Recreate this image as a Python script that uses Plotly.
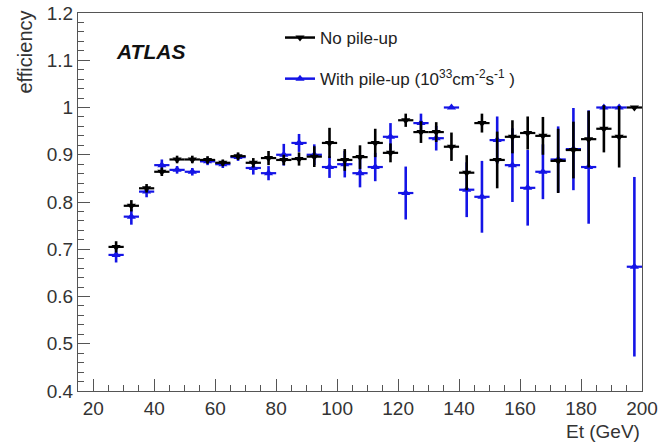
import plotly.graph_objects as go

# Bin centres (GeV)
et = [27.5, 32.5, 37.5, 42.5, 47.5, 52.5, 57.5, 62.5, 67.5, 72.5, 77.5, 82.5,
      87.5, 92.5, 97.5, 102.5, 107.5, 112.5, 117.5, 122.5, 127.5, 132.5, 137.5,
      142.5, 147.5, 152.5, 157.5, 162.5, 167.5, 172.5, 177.5, 182.5, 187.5,
      192.5, 197.5]
half_bin = [2.5] * len(et)

# No pile-up
eff_nopu = [0.705, 0.792, 0.829, 0.864, 0.890, 0.890, 0.889, 0.883, 0.897, 0.883,
            0.893, 0.889, 0.891, 0.896, 0.925, 0.889, 0.895, 0.925, 0.904, 0.973,
            0.948, 0.948, 0.917, 0.862, 0.967, 0.889, 0.938, 0.946, 0.940, 0.887,
            0.910, 0.933, 0.955, 0.938, 1.000]
err_nopu = [0.012, 0.012, 0.009, 0.009, 0.008, 0.008, 0.008, 0.007, 0.008, 0.010,
            0.015, 0.011, 0.014, 0.022, 0.032, 0.023, 0.025, 0.030, 0.020, 0.014,
            0.023, 0.021, 0.030, 0.037, 0.020, 0.060, 0.035, 0.035, 0.040, 0.068,
            0.060, 0.060, 0.050, 0.065, 0.000]

# With pile-up
eff_pu = [0.688, 0.769, 0.822, 0.878, 0.868, 0.864, 0.886, 0.880, 0.895, 0.872,
          0.861, 0.900, 0.925, 0.900, 0.874, 0.880, 0.861, 0.874, 0.938, 0.819,
          0.967, 0.935, 1.000, 0.826, 0.811, 0.931, 0.878, 0.830, 0.864, 0.890,
          0.912, 0.874, 1.000, 1.000, 0.663]
err_pu = [0.016, 0.017, 0.012, 0.012, 0.008, 0.008, 0.008, 0.008, 0.008, 0.014,
          0.015, 0.023, 0.019, 0.022, 0.023, 0.028, 0.030, 0.030, 0.029, 0.056,
          0.020, 0.026, 0.000, 0.058, 0.076, 0.050, 0.078, 0.080, 0.058, 0.070,
          0.087, 0.120, 0.000, 0.000, 0.190]

BLUE = "#1414e6"
BLACK = "#000000"
FONT = "Liberation Sans, Arial, sans-serif"

fig = go.Figure()

fig.add_trace(go.Scatter(
    x=et, y=eff_pu, mode="markers", showlegend=False,
    marker=dict(symbol="triangle-up", size=8, color=BLUE),
    error_x=dict(type="data", array=half_bin, width=0, thickness=2.2, color=BLUE),
    error_y=dict(type="data", array=err_pu, width=0, thickness=2.6, color=BLUE),
))
fig.add_trace(go.Scatter(
    x=et, y=eff_nopu, mode="markers", showlegend=False,
    marker=dict(symbol="triangle-down", size=8, color=BLACK),
    error_x=dict(type="data", array=half_bin, width=0, thickness=2.2, color=BLACK),
    error_y=dict(type="data", array=err_nopu, width=0, thickness=2.6, color=BLACK),
))

# legend entries
fig.add_trace(go.Scatter(
    x=[None], y=[None], mode="lines+markers", name="No pile-up",
    legendgroup="a",
    line=dict(color=BLACK, width=2.5),
    marker=dict(symbol="triangle-down", size=8, color=BLACK),
))
fig.add_trace(go.Scatter(
    x=[None], y=[None], mode="lines+markers",
    name="With pile-up (10<sup>33</sup>cm<sup>-2</sup>s<sup>-1</sup> )",
    legendgroup="b",
    line=dict(color=BLUE, width=2.5),
    marker=dict(symbol="triangle-up", size=8, color=BLUE),
))

axis_common = dict(
    showgrid=False, zeroline=False, showline=True, mirror=True,
    linecolor="#555555", linewidth=1.2, automargin=False,
    ticks="inside", tickcolor="#555555", tickwidth=1.2,
    tickfont=dict(family=FONT, size=19, color="#333333"),
)

fig.update_xaxes(
    range=[15, 200], tick0=20, dtick=20, ticklen=12,
    minor=dict(dtick=5, tick0=15, ticklen=6, ticks="inside", tickcolor="#555555", tickwidth=1.2),
    **axis_common,
)
fig.update_yaxes(
    range=[0.4, 1.2], tick0=0.4, dtick=0.1, ticklen=12,
    minor=dict(dtick=0.02, tick0=0.4, ticklen=6, ticks="inside", tickcolor="#555555", tickwidth=1.2),
    **axis_common,
)

fig.add_annotation(
    text="<b><i>ATLAS</i></b>", xref="paper", yref="paper",
    x=(114 - 78) / 564, y=1 - (52 - 13) / 378, xanchor="left", yanchor="middle",
    showarrow=False, font=dict(family=FONT, size=21, color="#111111"),
)
fig.add_annotation(
    text="efficiency", xref="paper", yref="paper", textangle=-90,
    x=(25 - 78) / 564, y=1 + (13 - 9) / 378, xanchor="center", yanchor="top",
    showarrow=False, font=dict(family=FONT, size=20, color="#333333"),
)
fig.add_annotation(
    text="Et (GeV)", xref="paper", yref="paper",
    x=1.0, y=(391 - 432) / 378, xanchor="right", yanchor="middle",
    showarrow=False, font=dict(family=FONT, size=19, color="#333333"),
)

fig.update_layout(
    width=666, height=446,
    margin=dict(l=78, r=24, t=13, b=55, autoexpand=False),
    paper_bgcolor="white", plot_bgcolor="white",
    legend=dict(
        x=(280 - 78) / 564, y=1 - (20 - 13) / 378, xanchor="left", yanchor="top",
        bgcolor="rgba(0,0,0,0)", traceorder="grouped", tracegroupgap=16,
        itemwidth=30,
        font=dict(family=FONT, size=17, color="#222222"),
    ),
)

fig.write_html("out.html")
